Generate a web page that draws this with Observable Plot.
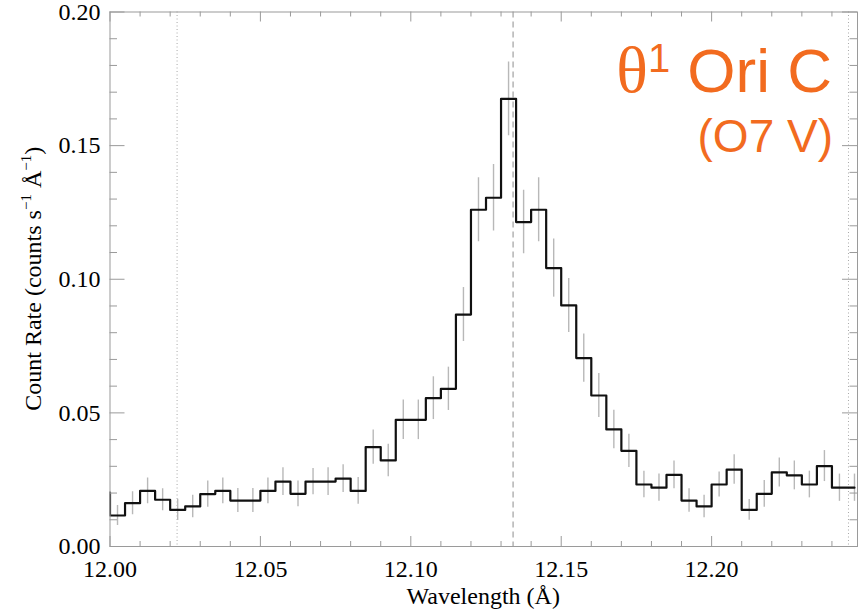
<!DOCTYPE html>
<html><head><meta charset="utf-8">
<script src="https://cdn.jsdelivr.net/npm/d3@7"></script>
<script src="https://cdn.jsdelivr.net/npm/@observablehq/plot@0.6"></script>
<style>body{margin:0;background:#fff} #chart{width:858px;height:612px}</style>
</head><body><div id="chart"></div>
<script>
// Bin centres (Å); first bin lies just left of the plotted range
const wavelength = [11.9975,12.0025,12.0075,12.0125,12.0175,12.0225,12.0275,12.0325,12.0375,12.0425,12.0475,
  12.0525,12.0575,12.0625,12.0675,12.0725,12.0775,12.0825,12.0875,12.0925,12.0975,
  12.1025,12.1075,12.1125,12.1175,12.1225,12.1275,12.1325,12.1375,12.1425,12.1475,
  12.1525,12.1575,12.1625,12.1675,12.1725,12.1775,12.1825,12.1875,12.1925,12.1975,
  12.2025,12.2075,12.2125,12.2175,12.2225,12.2275,12.2325,12.2375,12.2425,12.2475];
const countRate = [0.0202,0.0116,0.0162,0.0208,0.0175,0.0137,0.0150,0.0196,0.0208,0.0172,0.0172,
  0.0208,0.0243,0.0197,0.0243,0.0243,0.0254,0.0208,0.0372,0.0322,0.0474,
  0.0474,0.0555,0.0590,0.0868,0.1260,0.1305,0.1675,0.1214,0.1260,0.1042,
  0.0902,0.0705,0.0565,0.0438,0.0358,0.0232,0.0220,0.0268,0.0172,0.0150,
  0.0232,0.0288,0.0137,0.0197,0.0277,0.0266,0.0232,0.0301,0.0220,0.0220];
const countError = [0.0048,0.0037,0.0043,0.0048,0.0041,0.0040,0.0042,0.0049,0.0048,0.0045,0.0045,
  0.0048,0.0052,0.0048,0.0049,0.0052,0.0052,0.0050,0.0064,0.0061,0.0074,
  0.0074,0.0080,0.0081,0.0101,0.0120,0.0124,0.0138,0.0119,0.0120,0.0109,
  0.0101,0.0090,0.0082,0.0072,0.0062,0.0050,0.0051,0.0052,0.0044,0.0042,
  0.0047,0.0055,0.0039,0.0050,0.0054,0.0054,0.0050,0.0058,0.0051,0.0051];
const dottedLines = [12.0223, 12.2455];
const dashedLines = [12.134];
const xMajor = [12.00, 12.05, 12.10, 12.15, 12.20];
const xMinor = [12.01,12.02,12.03,12.04,12.06,12.07,12.08,12.09,12.11,12.12,12.13,12.14,
  12.16,12.17,12.18,12.19,12.21,12.22,12.23,12.24];
const yMajor = [0.00, 0.05, 0.10, 0.15, 0.20];
const yMinor = [0.01,0.02,0.03,0.04,0.06,0.07,0.08,0.09,0.11,0.12,0.13,0.14,0.16,0.17,0.18,0.19];

const W = 858, H = 612, mL = 109.5, mR = 1, mT = 11.5, mB = 66;
const plotW = W - mL - mR, plotH = H - mT - mB;
const data = wavelength.map((w, i) => ({w, c: countRate[i], e: countError[i]}));
const grey = "#9a9a9a";
const serif = "'Liberation Serif', 'Times New Roman', serif";
const sans = "'Liberation Sans', Arial, sans-serif";

const chart = Plot.plot({
  width: W, height: H,
  marginLeft: mL, marginRight: mR, marginTop: mT, marginBottom: mB,
  style: {fontFamily: serif, fontSize: "24px", color: "#000", background: "#fff", overflow: "visible"},
  x: {domain: [12.0, 12.2485], ticks: xMajor, tickFormat: d3.format(".2f"), tickSize: 0, tickPadding: 13, label: null},
  y: {domain: [0, 0.2], ticks: yMajor, tickFormat: d3.format(".2f"), tickSize: 0, tickPadding: 9.5, label: null},
  marks: [
    Plot.ruleX(dottedLines, {stroke: "#a8a8a8", strokeWidth: 1, strokeDasharray: "1,2.5"}),
    Plot.ruleX(dashedLines, {stroke: "#a8a8a8", strokeWidth: 1.3, strokeDasharray: "6,4"}),
    Plot.ruleX(data, {x: "w", y1: d => d.c - d.e, y2: d => d.c + d.e, stroke: "#b8b8b8", strokeWidth: 1.4, clip: true}),
    Plot.line(data, {x: "w", y: "c", curve: "step", stroke: "#111", strokeWidth: 2.2, clip: true}),
    Plot.frame({stroke: grey}),
    Plot.ruleX(xMajor, {stroke: grey, insetTop: plotH - 10}),
    Plot.ruleX(xMinor, {stroke: grey, insetTop: plotH - 5}),
    Plot.ruleX(xMajor, {stroke: grey, insetBottom: plotH - 10}),
    Plot.ruleX(xMinor, {stroke: grey, insetBottom: plotH - 5}),
    Plot.ruleY(yMajor, {stroke: grey, insetRight: plotW - 15}),
    Plot.ruleY(yMinor, {stroke: grey, insetRight: plotW - 7.5}),
    Plot.ruleY(yMajor, {stroke: grey, insetLeft: plotW - 15}),
    Plot.ruleY(yMinor, {stroke: grey, insetLeft: plotW - 7.5})
  ]
});
document.getElementById("chart").appendChild(chart);

const svg = d3.select(chart);
// x-axis title
svg.append("text").attr("x", mL + plotW / 2).attr("y", 604)
  .attr("text-anchor", "middle").attr("font-family", serif).attr("font-size", 24).attr("fill", "#000")
  .text("Wavelength (Å)");
// y-axis title with superscripts
const yt = svg.append("text").attr("transform", `translate(41,${mT + plotH / 2}) rotate(-90)`)
  .attr("text-anchor", "middle").attr("font-family", serif).attr("font-size", 24).attr("fill", "#000");
yt.append("tspan").text("Count Rate (counts s");
yt.append("tspan").attr("font-size", 15).attr("dy", -10).text("−1");
yt.append("tspan").attr("dy", 10).text(" Å");
yt.append("tspan").attr("font-size", 15).attr("dy", -10).text("−1");
yt.append("tspan").attr("dy", 10).text(")");
// star annotation
const orange = "#f26b1f";
const t1 = svg.append("text").attr("x", 832).attr("y", 92).attr("text-anchor", "end").attr("fill", orange);
t1.append("tspan").attr("font-family", serif).attr("font-size", 66).text("θ");
t1.append("tspan").attr("font-family", sans).attr("font-size", 40).attr("dy", -20).text("1");
t1.append("tspan").attr("font-family", sans).attr("font-size", 62).attr("dy", 20).text(" Ori C");
svg.append("text").attr("x", 833).attr("y", 152).attr("text-anchor", "end").attr("fill", orange)
  .attr("font-family", sans).attr("font-size", 46).text("(O7 V)");
</script></body></html>
